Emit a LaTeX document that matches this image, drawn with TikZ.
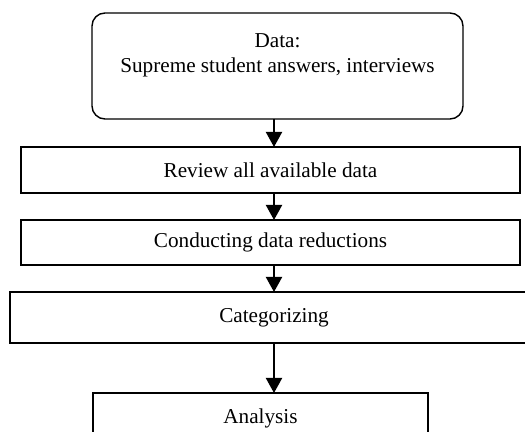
\documentclass[tikz,border=0pt]{standalone}
\usepackage{fontspec}
\setmainfont{Liberation Serif}
\usetikzlibrary{arrows.meta}

\begin{document}
\begin{tikzpicture}[x=0.5pt,y=-0.5pt,font=\fontsize{10.6}{12.5}\selectfont,
	flow/.style={line width=1pt,-{Triangle[length=7.5pt,width=8pt]}}]

	\useasboundingbox (0,0) rectangle (525,432);
	\clip (0,0) rectangle (525,432);

	\coordinate (spine) at (274,0);

	\begin{scope}[every node/.style={draw,rectangle,line width=0.7pt,inner sep=0pt,outer sep=0pt,align=center}]
		\node[rounded corners=6.5pt,minimum width=185.5pt,minimum height=53pt] (data) at (277.5,66) {Data:\\Supreme student answers, interviews\\~};
		\node[minimum width=249.5pt,minimum height=23pt] (review) at (270.5,170) {Review all available data};
		\node[minimum width=249.5pt,minimum height=22.5pt] (reduce) at (270.5,242.5) {Conducting data reductions};
		\node[minimum width=264pt,minimum height=25.5pt] (categ) at (274,317.5) {Categorizing};
		\node[minimum width=167.5pt,minimum height=25pt] (analysis) at (260.5,418) {Analysis};
	\end{scope}

	\draw[flow] (data.south -| spine) -- (review.north -| spine);
	\draw[flow] (review.south -| spine) -- (reduce.north -| spine);
	\draw[flow] (reduce.south -| spine) -- (categ.north -| spine);
	\draw[flow] (categ.south -| spine) -- (analysis.north -| spine);

\end{tikzpicture}
\end{document}
